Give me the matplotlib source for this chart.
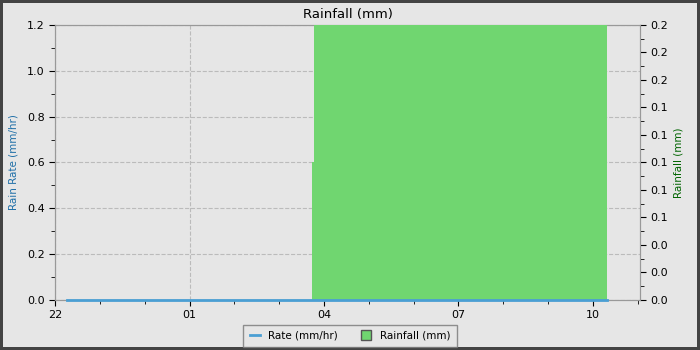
import matplotlib
matplotlib.use("Agg")
import matplotlib.pyplot as plt
import matplotlib.dates as mdates
from matplotlib.lines import Line2D
from matplotlib.ticker import MultipleLocator, FormatStrFormatter
from datetime import datetime

# rain rate (mm/hr), flat zero over the whole period
rate_times = ["2024-01-21 22:16", "2024-01-22 10:19"]
rate_vals = [0.0, 0.0]

# rainfall (mm), stepped
rain_times = ["2024-01-22 03:44", "2024-01-22 03:46", "2024-01-22 10:19"]
rain_vals = [0.1, 0.2, 0.2]

x_start = "2024-01-21 22:00"
x_end = "2024-01-22 11:03"

def parse(ts):
    return [datetime.strptime(t, "%Y-%m-%d %H:%M") for t in ts]

bg = "#e6e6e6"
rate_col = "#4a9fd4"
rain_col = "#70d670"

fig = plt.figure(figsize=(7, 3.5), dpi=100, facecolor=bg,
                 edgecolor="#444444", linewidth=3)
ax = fig.add_axes([0.0786, 0.1429, 0.8357, 0.7857])
ax.set_facecolor(bg)
ax2 = ax.twinx()

ax.set_xlim(parse([x_start])[0], parse([x_end])[0])
ax.set_ylim(0, 1.2)
ax2.set_ylim(0, 0.2)

ax.grid(True, which="major", linestyle="--", color="#bbbbbb", linewidth=0.8)
ax.set_axisbelow(True)

ax2.fill_between(parse(rain_times), rain_vals, 0, step="post",
                 color=rain_col, linewidth=0, zorder=3)
ax2.plot(parse(rate_times), rate_vals, color=rate_col, linewidth=2,
         transform=ax.transData, clip_on=False, zorder=4)

ax.xaxis.set_major_locator(mdates.HourLocator(byhour=range(1, 24, 3)))
ax.xaxis.set_minor_locator(mdates.HourLocator())
ax.xaxis.set_major_formatter(mdates.DateFormatter("%H"))

ax.yaxis.set_major_locator(MultipleLocator(0.2))
ax.yaxis.set_minor_locator(MultipleLocator(0.1))
ax.yaxis.set_major_formatter(FormatStrFormatter("%.1f"))
ax2.yaxis.set_major_locator(MultipleLocator(0.02))
ax2.yaxis.set_minor_locator(MultipleLocator(0.01))
ax2.yaxis.set_major_formatter(FormatStrFormatter("%.1f"))

for a in (ax, ax2):
    a.tick_params(labelsize=8, length=4)
    a.tick_params(which="minor", length=3)
    for s in a.spines.values():
        s.set_color("#999999")

ax.set_ylabel("Rain Rate (mm/hr)", color="#1f6fa8", fontsize=7.5, labelpad=6)
ax2.set_ylabel("Rainfall (mm)", color="#006400", fontsize=7.5)
ax.set_title("Rainfall (mm)", fontsize=9.5, pad=5)

handles = [
    Line2D([], [], color=rate_col, linewidth=2),
    Line2D([], [], marker="s", linestyle="none", markersize=7,
           markerfacecolor=rain_col, markeredgecolor="#555555"),
]
fig.legend(handles, ["Rate (mm/hr)", "Rainfall (mm)"], loc="center",
           bbox_to_anchor=(0.5, 0.04), ncol=2, fontsize=7.5,
           frameon=True, fancybox=False, edgecolor="#777777",
           facecolor=bg, handlelength=1.0, columnspacing=2.2,
           borderpad=0.6)

fig.savefig("out.png", dpi=100, facecolor=bg, edgecolor="#444444")
